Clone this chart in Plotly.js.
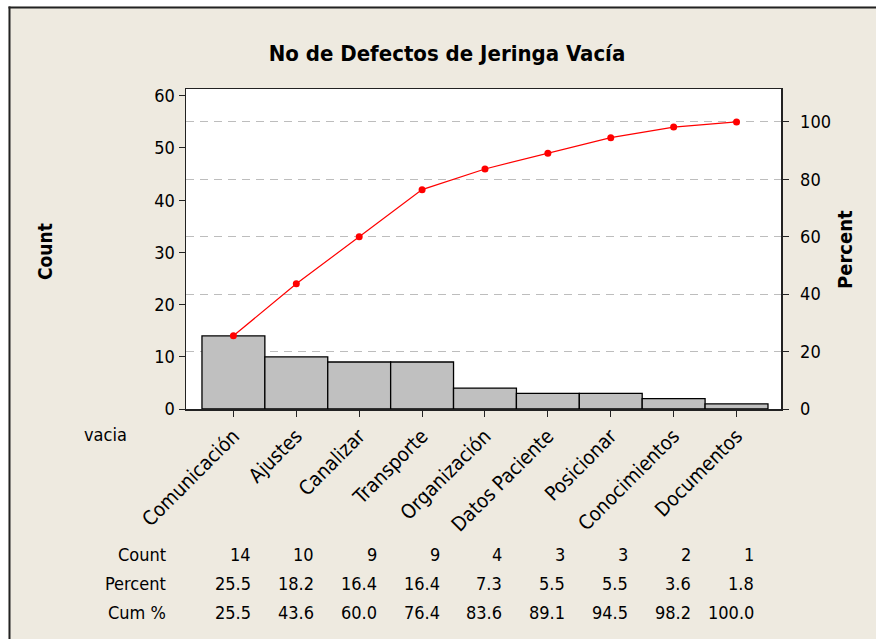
<!DOCTYPE html>
<html>
<head>
<meta charset="utf-8">
<script src="https://cdn.plot.ly/plotly-3.0.1.min.js"></script>
<style>
html,body{margin:0;padding:0;background:#fff;}
#chart{width:876px;height:639px;}
</style>
</head>
<body>
<div id="chart"></div>
<script>
const categories = ["Comunicación","Ajustes","Canalizar","Transporte","Organización","Datos Paciente","Posicionar","Conocimientos","Documentos"];
const counts = [14, 10, 9, 9, 4, 3, 3, 2, 1];
const percents = ["25.5","18.2","16.4","16.4","7.3","5.5","5.5","3.6","1.8"];
const cumPercents = [25.5, 43.6, 60.0, 76.4, 83.6, 89.1, 94.5, 98.2, 100.0];
const cumLabels = ["25.5","43.6","60.0","76.4","83.6","89.1","94.5","98.2","100.0"];
const rowLabels = ["Count","Percent","Cum %"];
const countTicks = [0,10,20,30,40,50,60];
const percentTicks = [0,20,40,60,80,100];

const W = 876, H = 639;
const L = 186, R = 781, T = 89, B = 409;
const px = x => (x - L) / (R - L);
const py = y => (B - y) / (B - T);
const FONT = '"DejaVu Sans Condensed", "DejaVu Sans", sans-serif';
const BG = '#EEEAE0';

const traces = [
  {
    type: 'bar', x: categories, y: counts, yaxis: 'y',
    marker: {color: '#C0C0C0', line: {color: '#000000', width: 1.3}},
    hoverinfo: 'none'
  },
  {
    type: 'scatter', mode: 'lines+markers', x: categories, y: cumPercents, yaxis: 'y2',
    line: {color: '#FF0000', width: 1.2},
    marker: {color: '#FF0000', size: 7},
    hoverinfo: 'none'
  }
];

const annotations = [];
const rowY = [554, 583, 612];
const rows = [counts.map(String), percents, cumLabels];
rowLabels.forEach((lab, r) => {
  annotations.push({xref:'paper', yref:'paper', x: px(168), y: py(rowY[r]), xanchor:'right', yanchor:'middle',
    text: lab, showarrow:false, font:{family:FONT, size:18, color:'#000'}});
  rows[r].forEach((v, i) => {
    annotations.push({xref:'x', yref:'paper', x: i + 0.31, y: py(rowY[r]), xanchor:'right', yanchor:'middle',
      text: v, showarrow:false, font:{family:FONT, size:18, color:'#000'}});
  });
});
annotations.push({xref:'paper', yref:'paper', x: px(105), y: py(434), xanchor:'center', yanchor:'middle',
  text:'vacia', showarrow:false, font:{family:FONT, size:18, color:'#000'}});
annotations.push({xref:'paper', yref:'paper', x: px(45), y: py(252), xanchor:'center', yanchor:'middle',
  text:'<b>Count</b>', textangle:-90, showarrow:false, font:{family:FONT, size:19, color:'#000'}});
annotations.push({xref:'paper', yref:'paper', x: px(845), y: py(250), xanchor:'center', yanchor:'middle',
  text:'<b>Percent</b>', textangle:-90, showarrow:false, font:{family:FONT, size:20, color:'#000'}});

const shapes = [
  {type:'rect', xref:'paper', yref:'paper', x0: px(0), x1: px(W), y0: py(0), y1: py(6.5), fillcolor:'#fff', line:{width:0}, layer:'below'},
  {type:'rect', xref:'paper', yref:'paper', x0: px(0), x1: px(8.5), y0: py(0), y1: py(H), fillcolor:'#fff', line:{width:0}, layer:'below'},
  {type:'line', xref:'paper', yref:'paper', x0: px(8.5), x1: px(W), y0: py(7.5), y1: py(7.5), line:{color:'#222', width:2}, layer:'below'},
  {type:'line', xref:'paper', yref:'paper', x0: px(9.5), x1: px(9.5), y0: py(6.5), y1: py(H), line:{color:'#222', width:2}, layer:'below'}
];

const layout = {
  width: W, height: H, autosize: false,
  margin: {l: L, r: W - R, t: T, b: H - B, pad: 0},
  paper_bgcolor: BG, plot_bgcolor: '#FFFFFF',
  showlegend: false, bargap: 0,
  font: {family: FONT, size: 18, color: '#000'},
  title: {text: '<b>No de Defectos de Jeringa Vacía</b>', font: {family: FONT, size: 22, color: '#000'},
    x: 447 / W, xanchor: 'center', y: 1 - 53 / H, yanchor: 'middle', yref: 'container', xref: 'container'},
  xaxis: {
    type: 'category', categoryorder: 'array', categoryarray: categories,
    range: [-0.754, 8.707], showline: true, linecolor: '#222', linewidth: 1.5, mirror: true,
    ticks: 'outside', ticklen: 6, tickcolor: '#222', tickwidth: 1, tickangle: -45,
    tickfont: {family: FONT, size: 20, color: '#000'}, showgrid: false, zeroline: false
  },
  yaxis: {
    range: [0, 61.3], tickvals: countTicks, showline: true, linecolor: '#222', linewidth: 1.5, mirror: true,
    ticks: 'outside', ticklen: 6, tickcolor: '#222', tickwidth: 1, showgrid: false, zeroline: false,
    tickfont: {family: FONT, size: 18, color: '#000'}
  },
  yaxis2: {
    overlaying: 'y', side: 'right', range: [0, 111.45], tickvals: percentTicks,
    showline: true, linecolor: '#222', linewidth: 1.5,
    ticks: 'outside', ticklen: 6, tickcolor: '#222', tickwidth: 1,
    showgrid: true, gridcolor: '#BDBDBD', gridwidth: 1, griddash: '8px,6px', zeroline: false,
    tickfont: {family: FONT, size: 18, color: '#000'}, ticklabelstandoff: 8
  },
  annotations: annotations,
  shapes: shapes
};

Plotly.newPlot('chart', traces, layout, {staticPlot: true, displayModeBar: false});
</script>
</body>
</html>
